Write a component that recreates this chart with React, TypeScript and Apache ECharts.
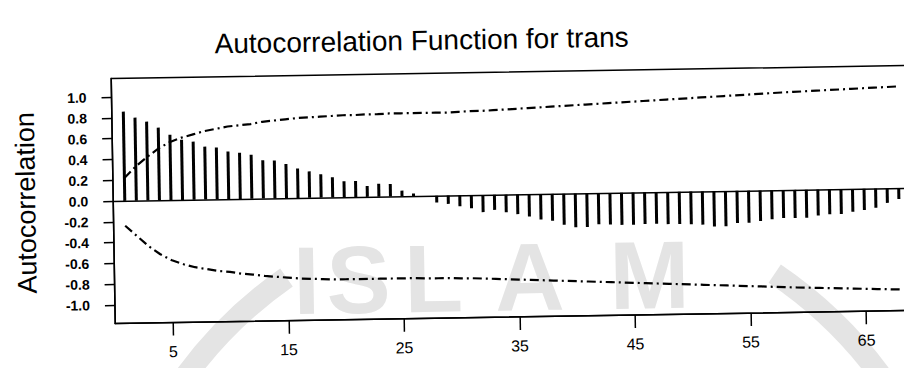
import React, { useEffect, useRef } from "react";
import * as echarts from "echarts";

const TITLE = "Autocorrelation Function for trans";
const Y_NAME = "Autocorrelation";
const WATERMARK = ["I", "S", "L", "A", "M"];

// autocorrelation at lags 1..68
const ACF = [
  0.86, 0.8, 0.76, 0.7, 0.63, 0.58, 0.56, 0.51, 0.5, 0.46,
  0.445, 0.425, 0.37, 0.365, 0.33, 0.285, 0.255, 0.225, 0.195, 0.155,
  0.155, 0.105, 0.125, 0.12, 0.055, 0.025, -0.01, -0.065, -0.08, -0.105,
  -0.125, -0.165, -0.145, -0.17, -0.19, -0.215, -0.245, -0.26, -0.3, -0.325,
  -0.325, -0.3, -0.305, -0.31, -0.31, -0.305, -0.305, -0.31, -0.31, -0.315,
  -0.32, -0.34, -0.34, -0.31, -0.31, -0.295, -0.28, -0.27, -0.27, -0.27,
  -0.25, -0.24, -0.24, -0.22, -0.205, -0.185, -0.14, -0.105,
];

// upper confidence limit at lags 1..68
const UPPER = [
  0.22, 0.33, 0.42, 0.5, 0.56, 0.6, 0.63, 0.66, 0.68, 0.7,
  0.71, 0.72, 0.74, 0.75, 0.76, 0.77, 0.775, 0.78, 0.785, 0.79,
  0.79, 0.795, 0.795, 0.8, 0.8, 0.8, 0.8, 0.8, 0.8, 0.805,
  0.81, 0.81, 0.815, 0.82, 0.825, 0.83, 0.835, 0.84, 0.845, 0.85,
  0.855, 0.86, 0.865, 0.87, 0.875, 0.88, 0.885, 0.89, 0.895, 0.9,
  0.905, 0.91, 0.915, 0.92, 0.925, 0.93, 0.935, 0.94, 0.944, 0.948,
  0.952, 0.956, 0.96, 0.964, 0.968, 0.972, 0.976, 0.98,
];

// lower confidence limit at lags 1..68
const LOWER = [
  -0.24, -0.34, -0.44, -0.52, -0.58, -0.62, -0.65, -0.67, -0.69, -0.7,
  -0.72, -0.73, -0.745, -0.755, -0.765, -0.775, -0.78, -0.785, -0.79, -0.79,
  -0.79, -0.79, -0.79, -0.79, -0.79, -0.79, -0.795, -0.795, -0.795, -0.8,
  -0.8, -0.805, -0.81, -0.815, -0.82, -0.825, -0.83, -0.835, -0.84, -0.845,
  -0.85, -0.855, -0.86, -0.865, -0.87, -0.875, -0.88, -0.885, -0.89, -0.895,
  -0.9, -0.905, -0.91, -0.915, -0.92, -0.925, -0.93, -0.935, -0.94, -0.944,
  -0.948, -0.952, -0.956, -0.96, -0.964, -0.968, -0.972, -0.976,
];

const X_TICKS = [5, 15, 25, 35, 45, 55, 65];
const Y_TICKS = [-1, -0.8, -0.6, -0.4, -0.2, 0, 0.2, 0.4, 0.6, 0.8, 1];

const FONT = "'Liberation Sans', Arial, sans-serif";
const WM_COLOR = "#e4e4e4";

export default function App() {
  const ref = useRef<HTMLDivElement>(null);

  useEffect(() => {
    if (!ref.current) return;
    const chart = echarts.init(ref.current, null, { renderer: "svg" });
    const lagData = (arr: number[]) => arr.map((v, i) => [i + 1, v]);
    const ciStyle = {
      color: "#000",
      width: 2.2,
      type: [9, 4, 2, 4] as number[],
    };
    // watermark letter centres (chart-div coordinates)
    const wmX = [345, 397, 472, 568, 688];
    chart.setOption({
      animation: false,
      backgroundColor: "#fff",
      textStyle: { fontFamily: FONT },
      grid: {
        left: 153,
        top: 93,
        width: 826,
        height: 245,
        show: true,
        borderColor: "#000",
        borderWidth: 1.5,
        containLabel: false,
      },
      graphic: [
        {
          type: "arc",
          z: -10,
          shape: { cx: 566, cy: 652, r: 431, startAngle: (214 * Math.PI) / 180, endAngle: (236 * Math.PI) / 180 },
          style: { stroke: WM_COLOR, lineWidth: 22, fill: "none" },
        },
        {
          type: "arc",
          z: -10,
          shape: { cx: 566, cy: 652, r: 431, startAngle: (305 * Math.PI) / 180, endAngle: (326 * Math.PI) / 180 },
          style: { stroke: WM_COLOR, lineWidth: 22, fill: "none" },
        },
        ...WATERMARK.map((ch, i) => ({
          type: "text",
          z: -10,
          x: wmX[i],
          y: 346,
          style: {
            text: ch,
            fill: WM_COLOR,
            font: `bold 96px ${FONT}`,
            align: "center",
            verticalAlign: "bottom",
          },
        })),
        {
          type: "text",
          x: 464,
          y: 60,
          style: {
            text: TITLE,
            fill: "#000",
            font: `28px ${FONT}`,
            align: "center",
            verticalAlign: "middle",
          },
        },
        {
          type: "text",
          x: 66,
          y: 216,
          rotation: Math.PI / 2,
          style: {
            text: Y_NAME,
            fill: "#000",
            font: `27px ${FONT}`,
            align: "center",
            verticalAlign: "middle",
          },
        },
      ],
      xAxis: {
        type: "value",
        min: 0,
        max: 71.5,
        axisLine: { show: true, onZero: false, lineStyle: { color: "#000", width: 1.5 } },
        axisTick: {
          show: true,
          length: 13,
          inside: false,
          customValues: X_TICKS,
          lineStyle: { color: "#000", width: 1.5 },
        },
        axisLabel: {
          show: true,
          customValues: X_TICKS,
          margin: 21,
          color: "#000",
          fontSize: 16,
          fontFamily: FONT,
        },
        splitLine: { show: false },
      },
      yAxis: {
        type: "value",
        min: -1.18,
        max: 1.18,
        axisLine: { show: true, onZero: false, lineStyle: { color: "#000", width: 1.5 } },
        axisTick: {
          show: true,
          length: 10,
          inside: false,
          customValues: Y_TICKS,
          lineStyle: { color: "#000", width: 1.5 },
        },
        axisLabel: {
          show: true,
          customValues: Y_TICKS,
          margin: 25,
          color: "#000",
          fontSize: 14,
          fontWeight: "bold",
          fontFamily: FONT,
          formatter: (v: number) => v.toFixed(1),
        },
        splitLine: { show: false },
      },
      series: [
        {
          type: "bar",
          data: lagData(ACF),
          barWidth: 3,
          itemStyle: { color: "#000" },
          markLine: {
            silent: true,
            symbol: "none",
            label: { show: false },
            lineStyle: { color: "#000", width: 1.5, type: "solid" },
            data: [{ yAxis: 0 }],
          },
        },
        {
          type: "line",
          data: lagData(UPPER),
          showSymbol: false,
          symbol: "none",
          lineStyle: ciStyle,
        },
        {
          type: "line",
          data: lagData(LOWER),
          showSymbol: false,
          symbol: "none",
          lineStyle: ciStyle,
        },
      ],
    });
    return () => chart.dispose();
  }, []);

  return (
    <div
      style={{
        position: "fixed",
        left: 0,
        top: 0,
        width: 904,
        height: 368,
        overflow: "hidden",
        background: "#fff",
      }}
    >
      <div
        ref={ref}
        style={{
          position: "absolute",
          left: -40,
          top: -20,
          width: 984,
          height: 408,
          transform: "rotate(-0.94deg)",
        }}
      />
    </div>
  );
}
